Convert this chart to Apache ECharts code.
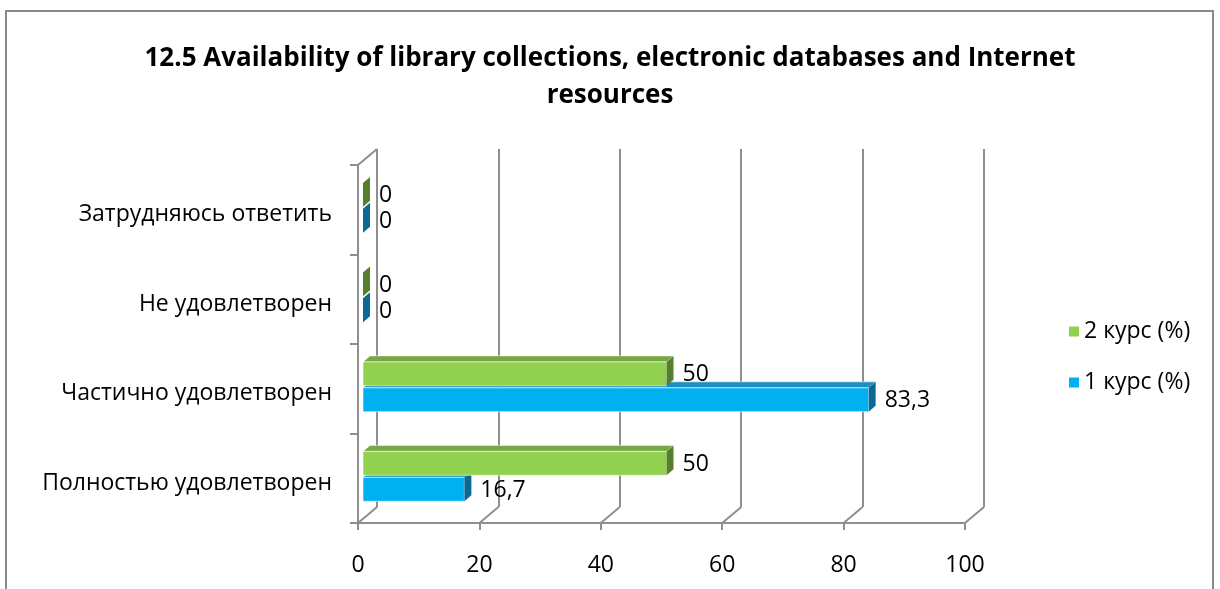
<!DOCTYPE html>
<html>
<head>
<meta charset="utf-8">
<script src="https://cdn.jsdelivr.net/npm/echarts@6/dist/echarts.min.js"></script>
<style>
  html, body { margin: 0; padding: 0; background: #fff; }
  #main { width: 1220px; height: 589px; }
</style>
</head>
<body>
<div id="main"></div>
<script>
// данные диаграммы
var categories = ['Полностью удовлетворен', 'Частично удовлетворен', 'Не удовлетворен', 'Затрудняюсь ответить'];
var course1 = [16.7, 83.3, 0, 0];   // 1 курс (%)
var course2 = [50, 50, 0, 0];       // 2 курс (%)
var xTicks = [0, 20, 40, 60, 80, 100];

var FONT = '"Open Sans", "Noto Sans", sans-serif';
var GRID_COLOR = '#8f8f8f';
var DX = 19, DY = 16;   // глубина "3D" стенки
var BAR_D = 7;          // глубина столбика

var chart = echarts.init(document.getElementById('main'));

function fmt(v) {
  return String(v).replace('.', ',');
}

// объемный столбик: передняя грань + верх + правая грань
function barRenderer(offsetTop, front, topC, side) {
  return function (params, api) {
    var v = api.value(0);
    var ci = api.value(1);
    var start = api.coord([0, ci]);
    var end = api.coord([v, ci]);
    var bw = api.size([0, 1])[1];
    var top = start[1] + offsetTop * bw;
    var h = 0.267 * bw;
    var x0 = start[0] + 5;
    var x1 = end[0] + 5;
    var d = BAR_D;
    var children = [];
    if (x1 > x0) {
      children.push({
        type: 'polygon',
        shape: { points: [[x0, top], [x0 + d, top - d + 1], [x1 + d, top - d + 1], [x1, top]] },
        style: { fill: topC, stroke: 'rgba(255,255,255,0.5)', lineWidth: 1 }
      });
      children.push({
        type: 'rect',
        shape: { x: x0, y: top, width: x1 - x0, height: h },
        style: { fill: front, stroke: 'rgba(255,255,255,0.6)', lineWidth: 1 }
      });
    }
    children.push({
      type: 'polygon',
      shape: { points: [[x1, top], [x1 + d, top - d + 1], [x1 + d, top + h - d + 1], [x1, top + h]] },
      style: { fill: side }
    });
    children.push({
      type: 'text',
      style: {
        text: fmt(v),
        x: x1 + d + 9,
        y: top + h / 2 + 1,
        verticalAlign: 'middle',
        fill: '#000',
        font: '23px ' + FONT
      }
    });
    return { type: 'group', children: children };
  };
}

// диагонали пола и левой стенки
function frameRenderer(params, api) {
  var v = api.value(0);
  var p = api.coord([v, 0]);
  var cs = params.coordSys;
  var floorY = cs.y + cs.height;
  var lines = [{
    type: 'line',
    shape: { x1: p[0], y1: floorY, x2: p[0] + DX, y2: floorY - DY },
    style: { stroke: GRID_COLOR, lineWidth: 2 }
  }];
  if (v === 0) {
    lines.push({
      type: 'line',
      shape: { x1: p[0], y1: cs.y, x2: p[0] + DX, y2: cs.y - DY },
      style: { stroke: GRID_COLOR, lineWidth: 2 }
    });
  }
  return { type: 'group', children: lines };
}

var option = {
  animation: false,
  title: {
    text: '12.5 Availability of library collections, electronic databases and Internet\nresources',
    left: 'center',
    top: 35,
    textStyle: { fontFamily: FONT, fontSize: 26, fontWeight: 'bold', color: '#000', lineHeight: 37 }
  },
  legend: {
    orient: 'vertical',
    left: 1064,
    top: 315,
    itemWidth: 10,
    itemHeight: 10,
    itemGap: 28,
    icon: 'rect',
    data: ['2 курс (%)', '1 курс (%)'],
    textStyle: { fontFamily: FONT, fontSize: 23, color: '#000' }
  },
  graphic: [{
    type: 'rect',
    shape: { x: 6, y: 11, width: 1207, height: 600 },
    style: { fill: 'none', stroke: '#8a8a8a', lineWidth: 2 },
    z: -10
  }],
  grid: [
    { left: 358, top: 165, width: 607, bottom: 66 },
    { left: 358 + DX, top: 165 - DY, width: 607, bottom: 66 + DY }
  ],
  xAxis: [{
    gridIndex: 0,
    type: 'value',
    min: 0, max: 100, interval: 20,
    axisLine: { show: true, lineStyle: { color: GRID_COLOR, width: 2 } },
    axisTick: { show: true, length: 7, lineStyle: { color: GRID_COLOR, width: 2 } },
    splitLine: { show: false },
    axisLabel: { margin: 31, color: '#000', fontFamily: FONT, fontSize: 23 }
  }, {
    gridIndex: 1,
    type: 'value',
    min: 0, max: 100, interval: 20,
    axisLine: { show: false },
    axisTick: { show: false },
    axisLabel: { show: false },
    splitLine: { show: true, lineStyle: { color: GRID_COLOR, width: 2 } }
  }],
  yAxis: [{
    gridIndex: 0,
    type: 'category',
    data: categories,
    axisLine: { show: true, lineStyle: { color: GRID_COLOR, width: 2 } },
    axisTick: { show: true, length: 8, lineStyle: { color: GRID_COLOR, width: 2 } },
    axisLabel: { margin: 26, color: '#000', fontFamily: FONT, fontSize: 23, verticalAlign: 'top', lineHeight: 10 }
  }, {
    gridIndex: 1,
    type: 'category',
    data: categories,
    show: false
  }],
  series: [{
    name: '1 курс (%)',
    type: 'custom',
    xAxisIndex: 0, yAxisIndex: 0,
    itemStyle: { color: '#00B0F0' },
    renderItem: barRenderer(-0.01, '#00B0F0', '#1A8FC0', '#0B6A94'),
    data: course1.map(function (v, i) { return [v, i]; }),
    encode: { x: 0, y: 1 },
    z: 5
  }, {
    name: '2 курс (%)',
    type: 'custom',
    xAxisIndex: 0, yAxisIndex: 0,
    itemStyle: { color: '#92D050' },
    renderItem: barRenderer(-0.30, '#92D050', '#77A843', '#557F2A'),
    data: course2.map(function (v, i) { return [v, i]; }),
    encode: { x: 0, y: 1 },
    z: 5
  }, {
    type: 'custom',
    xAxisIndex: 0, yAxisIndex: 0,
    silent: true,
    renderItem: frameRenderer,
    data: xTicks.map(function (v) { return [v, 0]; }),
    encode: { x: 0, y: 1 },
    z: 1
  }]
};

chart.setOption(option);
</script>
</body>
</html>
